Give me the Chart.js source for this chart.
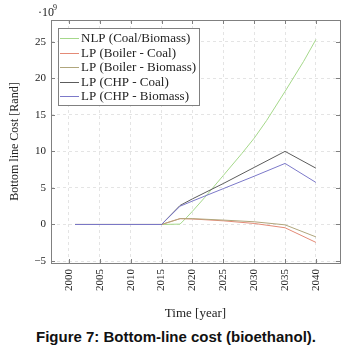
<!DOCTYPE html>
<html>
<head>
<meta charset="utf-8">
<script src="https://cdn.jsdelivr.net/npm/chart.js@4"></script>
<style>
  html, body { margin: 0; padding: 0; background: #fff; }
  #wrap { position: relative; width: 352px; height: 322px; }
  #cap { font: bold 15px "Liberation Sans", Arial, sans-serif; text-align: center; width: 352px; margin-top: 6px; color: #111; }
</style>
</head>
<body>
<div id="wrap"><canvas id="costChart"></canvas></div>
<div id="cap">Figure 7: Bottom-line cost (bioethanol).</div>
<script>
// --- data (values in 10^9 Rand) ---
const nlpYears = [2001, 2015, 2018, 2019, 2020, 2022, 2025, 2028, 2030, 2032, 2035, 2038, 2040];
const nlpCost = [0, 0, 0.05, 0.9, 1.8, 3.7, 6.7, 9.7, 11.8, 14.2, 18.2, 22.3, 25.3];
const lpYears = [2001, 2015, 2018, 2020, 2025, 2030, 2035, 2040];
const boilerCoal = [0, 0, 0.8, 0.75, 0.5, 0.14, -0.45, -2.45];
const boilerBiomass = [0, 0, 0.8, 0.8, 0.6, 0.37, -0.05, -1.7];
const chpCoal = [0, 0, 2.6, 3.5, 5.6, 7.8, 10.0, 7.7];
const chpBiomass = [0, 0, 2.5, 3.2, 4.9, 6.6, 8.35, 5.75];
const xTicks = [2000, 2005, 2010, 2015, 2020, 2025, 2030, 2035, 2040];
const yTicks = [-5, 0, 5, 10, 15, 20, 25];

const seriesNames = ['NLP (Coal/Biomass)', 'LP (Boiler - Coal)', 'LP (Boiler - Biomass)', 'LP (CHP - Coal)', 'LP (CHP - Biomass)'];
const seriesColors = ['#a5d88a', '#e48a76', '#b0a67c', '#5c5c5c', '#7c79c9'];

const SERIF = '"Liberation Serif", "DejaVu Serif", serif';

function pts(xs, ys) {
  return xs.map((x, i) => ({ x: x, y: ys[i] }));
}

const allSeries = [
  pts(nlpYears, nlpCost),
  pts(lpYears, boilerCoal),
  pts(lpYears, boilerBiomass),
  pts(lpYears, chpCoal),
  pts(lpYears, chpBiomass),
];

const datasets = allSeries.map((d, i) => ({
  label: seriesNames[i],
  data: d,
  borderColor: seriesColors[i],
  backgroundColor: seriesColors[i],
  borderWidth: 1,
  pointRadius: 0,
  fill: false,
  tension: 0,
  order: allSeries.length - 1 - i, // last series on top, like pgfplots
}));

// frame, inner tick marks, legend box, exponent label
const decorPlugin = {
  id: 'decor',
  afterDraw(chart) {
    const { ctx, chartArea: a, scales } = chart;
    ctx.save();
    ctx.strokeStyle = '#808080';
    ctx.lineWidth = 1;
    ctx.strokeRect(Math.round(a.left) + 0.5, Math.round(a.top) + 0.5,
      Math.round(a.right - a.left), Math.round(a.bottom - a.top));
    ctx.beginPath();
    xTicks.forEach((v) => {
      const x = Math.round(scales.x.getPixelForValue(v)) + 0.5;
      ctx.moveTo(x, a.bottom); ctx.lineTo(x, a.bottom - 4);
      ctx.moveTo(x, a.top); ctx.lineTo(x, a.top + 4);
    });
    yTicks.forEach((v) => {
      const y = Math.round(scales.y.getPixelForValue(v)) + 0.5;
      ctx.moveTo(a.left, y); ctx.lineTo(a.left + 4, y);
      ctx.moveTo(a.right, y); ctx.lineTo(a.right - 4, y);
    });
    ctx.stroke();

    // legend
    const lx = 58, ly = 28, lw = 141, lh = 77;
    ctx.fillStyle = '#fff';
    ctx.fillRect(lx, ly, lw, lh);
    ctx.strokeStyle = '#808080';
    ctx.strokeRect(lx + 0.5, ly + 0.5, lw, lh);
    ctx.font = '13px ' + SERIF;
    ctx.textBaseline = 'middle';
    ctx.textAlign = 'left';
    seriesNames.forEach((name, i) => {
      const cy = ly + 10 + i * 14.5;
      ctx.strokeStyle = seriesColors[i];
      ctx.beginPath();
      ctx.moveTo(lx + 2, Math.round(cy) + 0.5);
      ctx.lineTo(lx + 21, Math.round(cy) + 0.5);
      ctx.stroke();
      ctx.fillStyle = '#222';
      ctx.fillText(name, lx + 23, cy + 1);
    });

    // exponent label
    ctx.fillStyle = '#222';
    ctx.font = '12px ' + SERIF;
    ctx.textBaseline = 'alphabetic';
    ctx.fillText('\u00b710', 38, 16);
    ctx.font = '8px ' + SERIF;
    ctx.fillText('9', 53, 10);
    ctx.restore();
  },
};

new Chart(document.getElementById('costChart'), {
  type: 'line',
  data: { datasets: datasets },
  plugins: [decorPlugin],
  options: {
    responsive: true,
    maintainAspectRatio: false,
    animation: false,
    layout: { padding: { top: 20, right: 12, left: 0, bottom: 0 } },
    plugins: { legend: { display: false }, tooltip: { enabled: false } },
    scales: {
      x: {
        type: 'linear',
        min: 1997.1,
        max: 2043.9,
        afterBuildTicks: (s) => { s.ticks = xTicks.map((v) => ({ value: v })); },
        afterFit: (s) => { s.height = 59; },
        grid: { color: '#e4e4e4', drawTicks: false },
        border: { display: false, dash: [3, 3] },
        ticks: {
          minRotation: 90, maxRotation: 90, padding: 6,
          color: '#222', font: { family: SERIF, size: 11 },
          callback: (v) => String(v),
        },
        title: {
          display: true, text: 'Time [year]', color: '#222',
          font: { family: SERIF, size: 13 }, padding: { top: 0, bottom: 1 },
        },
      },
      y: {
        min: -5.27,
        max: 27.97,
        afterBuildTicks: (s) => { s.ticks = yTicks.map((v) => ({ value: v })); },
        afterFit: (s) => { s.width = 51; },
        grid: { color: '#e4e4e4', drawTicks: false },
        border: { display: false, dash: [3, 3] },
        ticks: {
          padding: 5, color: '#222', font: { family: SERIF, size: 11 },
          callback: (v) => (v < 0 ? '\u2212' + Math.abs(v) : String(v)),
        },
        title: {
          display: true, text: 'Bottom line Cost [Rand]', color: '#222',
          font: { family: SERIF, size: 12 }, padding: { top: 8, bottom: 0 },
        },
      },
    },
  },
});
</script>
</body>
</html>
